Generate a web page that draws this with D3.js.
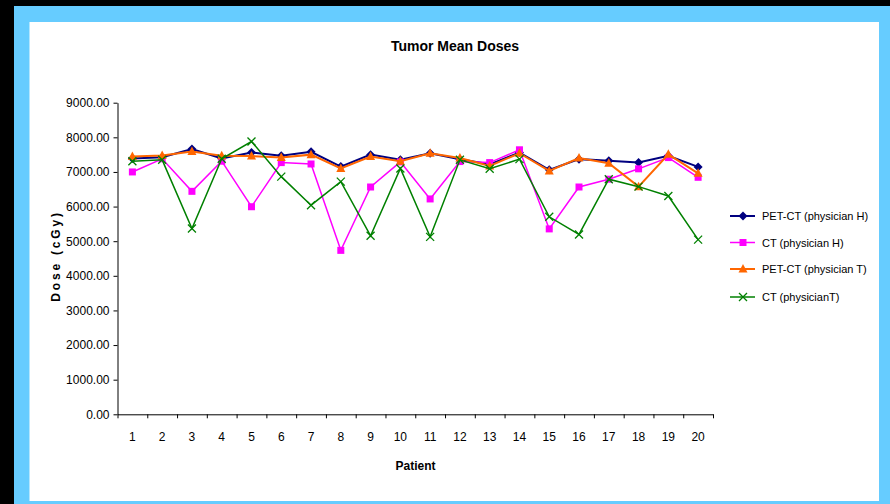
<!DOCTYPE html>
<html>
<head>
<meta charset="utf-8">
<script src="https://cdn.jsdelivr.net/npm/d3@7"></script>
<style>
  body { margin: 0; background: #000; }
  svg { display: block; font-family: "Liberation Sans", Arial, sans-serif; }
</style>
</head>
<body>
<svg width="890" height="504"></svg>
<script>
const patients = d3.range(1, 21).map(String);

const petctH = [7390, 7425, 7660, 7390, 7560, 7465, 7580, 7155, 7500, 7350,
                7540, 7365, 7220, 7560, 7060, 7370, 7320, 7270, 7465, 7145];
const ctH    = [7000, 7380, 6440, 7310, 5995, 7270, 7230, 4735, 6565, 7290,
                6220, 7300, 7270, 7640, 5355, 6565, 6790, 7090, 7415, 6845];
const petctT = [7445, 7475, 7590, 7470, 7460, 7415, 7500, 7100, 7445, 7310,
                7540, 7400, 7175, 7540, 7030, 7400, 7250, 6575, 7510, 6960];
const ctT    = [7310, 7350, 5365, 7380, 7880, 6865, 6040, 6720, 5155, 7100,
                5125, 7350, 7090, 7370, 5705, 5195, 6790, 6575, 6305, 5045];

const seriesNames = ["PET-CT (physician H)", "CT (physician H)", "PET-CT (physician T)", "CT (physicianT)"];
const yTicks = d3.range(0, 10000, 1000);

const series = [
  { name: seriesNames[0], values: petctH, color: "#000080", width: 2, marker: "diamond" },
  { name: seriesNames[1], values: ctH, color: "#FF00FF", width: 1.5, marker: "square" },
  { name: seriesNames[2], values: petctT, color: "#FF6600", width: 2, marker: "triangle" },
  { name: seriesNames[3], values: ctT, color: "#008000", width: 1.5, marker: "x" }
];

const svg = d3.select("svg");

// frame: black edge, blue border, white panel
svg.append("rect").attr("x", 14).attr("y", 6).attr("width", 876).attr("height", 498).attr("fill", "#66CCFF");
svg.append("rect").attr("x", 29.5).attr("y", 22).attr("width", 849.5).attr("height", 479).attr("fill", "#fff");

const x = d3.scaleBand().domain(patients).range([117.5, 713]);
const xEdge = d3.scaleLinear().domain([0, 20]).range([117.5, 713]);
const y = d3.scaleLinear().domain([0, 9000]).range([414.3, 102.7]);

// y axis
const yAxis = svg.append("g")
  .attr("transform", "translate(117.5,0)")
  .call(d3.axisLeft(y).tickValues(yTicks).tickFormat(d3.format(".2f")).tickSize(4).tickPadding(4).tickSizeOuter(0));
yAxis.selectAll("text").attr("font-size", 12).attr("fill", "#000").attr("font-family", "Liberation Sans, Arial");

// x axis: labels at centre, ticks at band edges
const xAxis = svg.append("g")
  .attr("transform", "translate(0,414.3)")
  .call(d3.axisBottom(x).tickSize(0).tickPadding(18.5));
xAxis.selectAll("text").attr("font-size", 12).attr("fill", "#000").attr("font-family", "Liberation Sans, Arial");
svg.append("g")
  .attr("transform", "translate(0,414.3)")
  .call(d3.axisBottom(xEdge).ticks(20).tickValues(d3.range(0, 21)).tickFormat("").tickSize(4).tickSizeOuter(0))
  .select(".domain").remove();

// titles
svg.append("text").attr("x", 455).attr("y", 51).attr("text-anchor", "middle")
  .attr("font-size", 14).attr("font-weight", "bold").text("Tumor Mean Doses");
svg.append("text").attr("x", 415.5).attr("y", 470).attr("text-anchor", "middle")
  .attr("font-size", 12).attr("font-weight", "bold").text("Patient");
svg.append("text").attr("transform", "translate(60,256) rotate(-90)").attr("text-anchor", "middle")
  .attr("font-size", 12).attr("font-weight", "bold").attr("letter-spacing", 2.8).text("Dose (cGy)");

function drawMarker(g, type, color) {
  if (type === "diamond") {
    g.append("path").attr("d", "M0,-4.5L4.5,0L0,4.5L-4.5,0Z").attr("fill", color);
  } else if (type === "square") {
    g.append("rect").attr("x", -3.5).attr("y", -3.5).attr("width", 7).attr("height", 7).attr("fill", color);
  } else if (type === "triangle") {
    g.append("path").attr("d", "M0,-5L4.5,3.5L-4.5,3.5Z").attr("fill", color);
  } else {
    g.append("path").attr("d", "M-4,-4L4,4M-4,4L4,-4").attr("stroke", color).attr("stroke-width", 1.3).attr("fill", "none");
  }
}

const line = d3.line()
  .x((d, i) => x(patients[i]) + x.bandwidth() / 2)
  .y(d => y(d));

series.forEach(s => {
  const g = svg.append("g");
  g.append("path").attr("d", line(s.values)).attr("fill", "none")
    .attr("stroke", s.color).attr("stroke-width", s.width);
  s.values.forEach((v, i) => {
    const m = g.append("g").attr("transform", `translate(${x(patients[i]) + x.bandwidth() / 2},${y(v)})`);
    drawMarker(m, s.marker, s.color);
  });
});

// legend
const legend = svg.append("g").attr("transform", "translate(730,0)");
const legendY = [216, 242.5, 269, 297];
series.forEach((s, i) => {
  const g = legend.append("g").attr("transform", `translate(0,${legendY[i]})`);
  g.append("line").attr("x1", 0).attr("x2", 25).attr("stroke", s.color).attr("stroke-width", s.width);
  const m = g.append("g").attr("transform", "translate(13,0)");
  drawMarker(m, s.marker, s.color);
  g.append("text").attr("x", 32).attr("y", 4).attr("font-size", 11).text(s.name);
});
</script>
</body>
</html>
